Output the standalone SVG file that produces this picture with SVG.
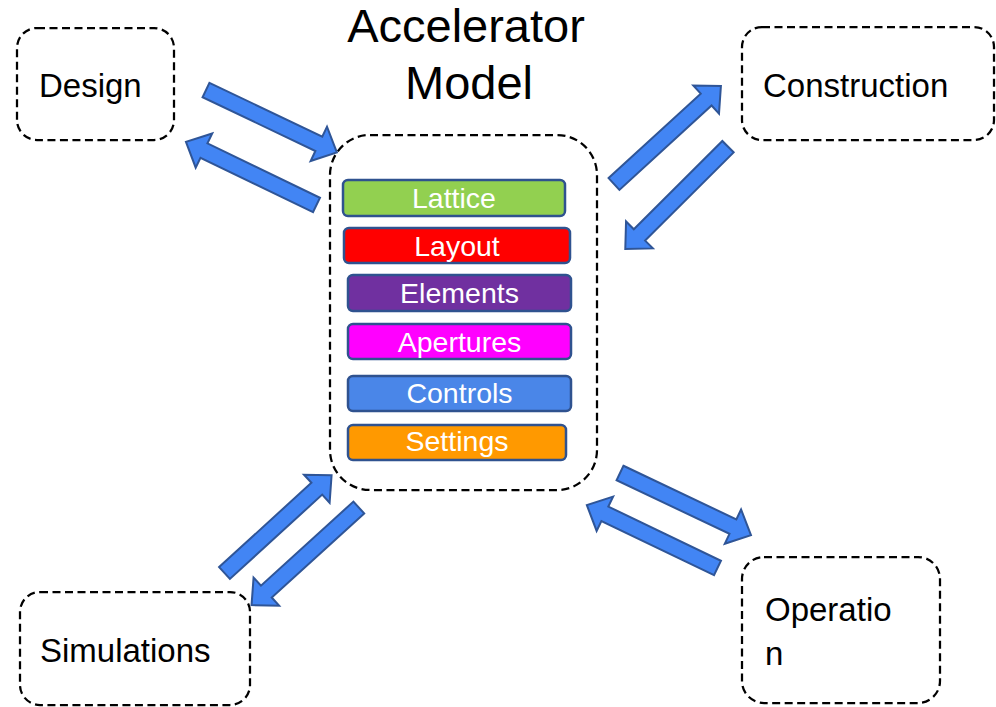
<svg xmlns="http://www.w3.org/2000/svg" xmlns:xlink="http://www.w3.org/1999/xlink" width="996" height="707" viewBox="0 0 996 707">
  <style>
    .box { fill: none; stroke: #000; stroke-width: 2.25; stroke-dasharray: 8 4.5; }
    .lbl { font-family: "Liberation Sans", Arial, sans-serif; font-size: 33px; fill: #000; }
    .title { font-family: "Liberation Sans", Arial, sans-serif; font-size: 47px; fill: #000; text-anchor: middle; }
    .bar { stroke: #2F528F; stroke-width: 2.5; }
    .bartxt { font-family: "Liberation Sans", Arial, sans-serif; font-size: 28.5px; fill: #fff; text-anchor: middle; }
    .arw { fill: #4285F4; stroke: #2F5597; stroke-width: 2; stroke-linejoin: miter; }
  </style>
  <defs>
    <!-- block arrow, tail at origin, pointing along +x, 145 long -->
    <path id="arrow" d="M0,-8 H125 V-19 L145,0 L125,19 V8 H0 Z"/>
  </defs>

  <rect width="996" height="707" fill="#fff"/>

  <g id="design">
    <rect class="box" x="17" y="28" width="157" height="112" rx="20"/>
    <text class="lbl" x="39" y="97">Design</text>
  </g>

  <g id="construction">
    <rect class="box" x="742" y="27" width="252" height="113" rx="20"/>
    <text class="lbl" x="763" y="97">Construction</text>
  </g>

  <g id="simulations">
    <rect class="box" x="20" y="592" width="230" height="113" rx="20"/>
    <text class="lbl" x="40" y="662">Simulations</text>
  </g>

  <g id="operation">
    <rect class="box" x="742" y="557" width="198" height="146" rx="22"/>
    <text class="lbl" x="765" y="621">Operatio</text>
    <text class="lbl" x="765" y="665">n</text>
  </g>

  <g id="model">
    <text class="title" x="466" y="42">Accelerator</text>
    <text class="title" x="469" y="99">Model</text>
    <rect class="box" x="330" y="135" width="267" height="355" rx="40"/>
    <g id="lattice">
      <rect class="bar" x="343" y="180" width="222" height="36" rx="5" fill="#92D050"/>
      <text class="bartxt" x="454" y="208">Lattice</text>
    </g>
    <g id="layout">
      <rect class="bar" x="344" y="228" width="226" height="35" rx="5" fill="#FF0000"/>
      <text class="bartxt" x="457" y="256">Layout</text>
    </g>
    <g id="elements">
      <rect class="bar" x="348" y="275" width="223" height="36" rx="5" fill="#7030A0"/>
      <text class="bartxt" x="459.5" y="303">Elements</text>
    </g>
    <g id="apertures">
      <rect class="bar" x="348" y="324" width="223" height="35" rx="5" fill="#FF00FF"/>
      <text class="bartxt" x="459.5" y="352">Apertures</text>
    </g>
    <g id="controls">
      <rect class="bar" x="348" y="376" width="223" height="35" rx="5" fill="#4A86E8"/>
      <text class="bartxt" x="459.5" y="403">Controls</text>
    </g>
    <g id="settings">
      <rect class="bar" x="348" y="425" width="218" height="35" rx="5" fill="#FF9900"/>
      <text class="bartxt" x="457" y="451">Settings</text>
    </g>
  </g>

  <g id="connectors">
    <use class="arw" xlink:href="#arrow" transform="translate(206,90) rotate(25.5)"/>
    <use class="arw" xlink:href="#arrow" transform="translate(316.5,205) rotate(205.8)"/>
    <use class="arw" xlink:href="#arrow" transform="translate(614,184) rotate(-42.5)"/>
    <use class="arw" xlink:href="#arrow" transform="translate(728,146.7) rotate(135.1)"/>
    <use class="arw" xlink:href="#arrow" transform="translate(620,473) rotate(25.4)"/>
    <use class="arw" xlink:href="#arrow" transform="translate(717.5,568) rotate(205.7)"/>
    <use class="arw" xlink:href="#arrow" transform="translate(224.5,573) rotate(-42.4)"/>
    <use class="arw" xlink:href="#arrow" transform="translate(358.8,507.5) rotate(137.7)"/>
  </g>
</svg>
